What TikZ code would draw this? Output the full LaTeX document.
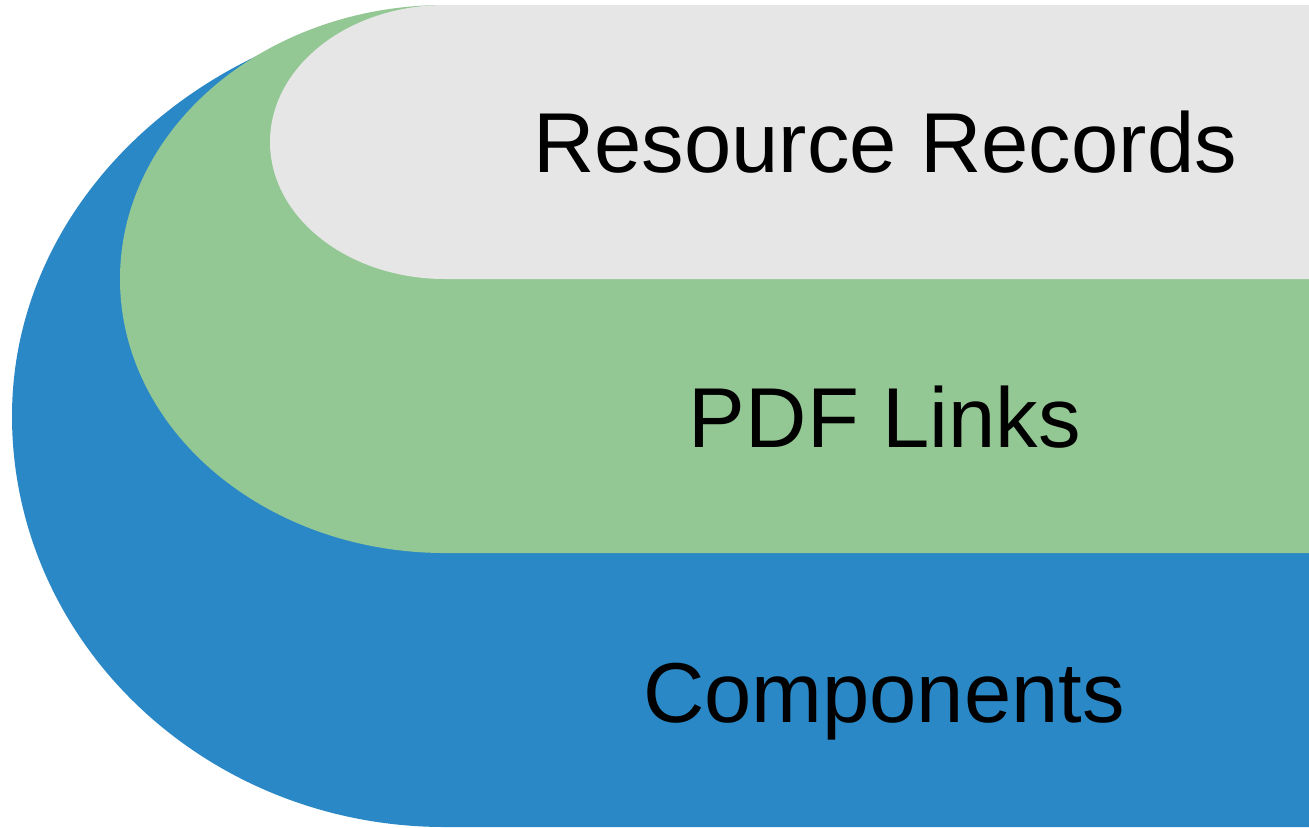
\documentclass[tikz,border=0pt]{standalone}
\usepackage{fontspec}
\setmainfont{Liberation Sans}
\usepackage{tikz}
\definecolor{compblue}{HTML}{2A88C6}
\definecolor{linkgreen}{HTML}{93C793}
\definecolor{recgray}{HTML}{E6E6E6}
\tikzset{layerlabel/.style={anchor = base, font=\fontsize{42.5}{50}\selectfont}}
\begin{document}
\begin{tikzpicture}[x=0.5pt, y=-0.5pt]
    \useasboundingbox (0,0) rectangle (1309,827);
    % components
    \fill [compblue] (1309,5) -- (485,5) arc [start angle=270, end angle=180, x radius=473, y radius=411]
        arc [start angle=180, end angle=90, x radius=433, y radius=411] -- (1309,827) -- cycle;
    % pdf links
    \fill [linkgreen] (1309,5) -- (445,5) arc [start angle=270, end angle=90, x radius=325, y radius=274] -- (1309,553) -- cycle;
    % resource records
    \fill [recgray] (1309,5) -- (445,5) arc [start angle=270, end angle=90, x radius=175, y radius=137] -- (1309,279) -- cycle;
    \node (records) at (885,172) [layerlabel] {Resource Records};
    \node (links) at (885,447) [layerlabel] {PDF Links};
    \node (comps) at (884,722) [layerlabel] {Components};
\end{tikzpicture}
\end{document}
